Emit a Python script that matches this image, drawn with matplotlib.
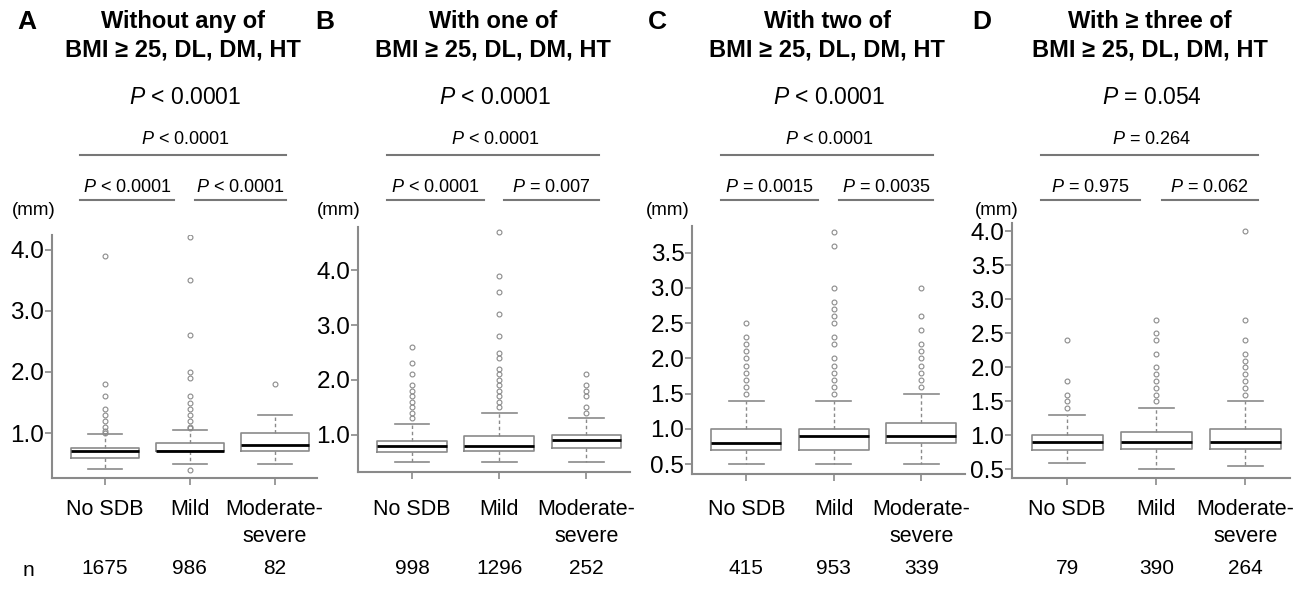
import matplotlib
matplotlib.use("Agg")
import matplotlib.pyplot as plt
from matplotlib.lines import Line2D
import matplotlib.transforms as mtransforms

plt.rcParams['font.family'] = ['Liberation Sans', 'DejaVu Sans']
plt.rcParams['mathtext.fontset'] = 'custom'
plt.rcParams['mathtext.it'] = 'Liberation Sans:italic'
plt.rcParams['mathtext.rm'] = 'Liberation Sans'

# ---- data ----
groups = ["No SDB", "Mild", "Moderate-\nsevere"]
letters = ["A", "B", "C", "D"]
titles = [
    "Without any of\nBMI ≥ 25, DL, DM, HT",
    "With one of\nBMI ≥ 25, DL, DM, HT",
    "With two of\nBMI ≥ 25, DL, DM, HT",
    "With ≥ three of\nBMI ≥ 25, DL, DM, HT",
]
p_overall = ["< 0.0001", "< 0.0001", "< 0.0001", "= 0.054"]
p_outer = ["< 0.0001", "< 0.0001", "< 0.0001", "= 0.264"]
p_left = ["< 0.0001", "< 0.0001", "= 0.0015", "= 0.975"]
p_right = ["< 0.0001", "= 0.007", "= 0.0035", "= 0.062"]
n_counts = [[1675, 986, 82], [998, 1296, 252], [415, 953, 339], [79, 390, 264]]

# [whisker low, Q1, median, Q3, whisker high] per group
summary_a = [[0.41, 0.60, 0.71, 0.75, 0.98], [0.50, 0.70, 0.71, 0.84, 1.05], [0.50, 0.70, 0.80, 1.00, 1.30]]
summary_b = [[0.50, 0.69, 0.80, 0.89, 1.20], [0.50, 0.70, 0.80, 0.97, 1.40], [0.50, 0.75, 0.90, 1.00, 1.30]]
summary_c = [[0.50, 0.70, 0.80, 1.00, 1.40], [0.50, 0.70, 0.90, 1.00, 1.40], [0.50, 0.80, 0.90, 1.08, 1.50]]
summary_d = [[0.60, 0.78, 0.90, 1.00, 1.30], [0.50, 0.80, 0.90, 1.05, 1.40], [0.55, 0.80, 0.90, 1.10, 1.50]]

fliers_a = [[3.9, 1.8, 1.6, 1.4, 1.3, 1.2, 1.1, 1.03, 1.0],
            [4.2, 3.5, 2.6, 2.0, 1.9, 1.6, 1.5, 1.4, 1.3, 1.2, 1.1, 1.08, 0.40],
            [1.8]]
fliers_b = [[2.6, 2.3, 2.1, 1.9, 1.8, 1.7, 1.6, 1.5, 1.4, 1.3],
            [4.7, 3.9, 3.6, 3.2, 2.8, 2.5, 2.4, 2.2, 2.1, 2.0, 1.9, 1.8, 1.7, 1.6, 1.5],
            [2.1, 1.9, 1.8, 1.7, 1.5, 1.4]]
fliers_c = [[2.5, 2.3, 2.2, 2.1, 2.0, 1.9, 1.8, 1.7, 1.6, 1.5],
            [3.8, 3.6, 3.0, 2.8, 2.7, 2.6, 2.5, 2.3, 2.2, 2.0, 1.9, 1.8, 1.7, 1.6, 1.5],
            [3.0, 2.6, 2.4, 2.2, 2.1, 2.0, 1.9, 1.8, 1.7, 1.6]]
fliers_d = [[2.4, 1.8, 1.6, 1.5, 1.4],
            [2.7, 2.5, 2.4, 2.2, 2.0, 1.9, 1.8, 1.7, 1.6, 1.5],
            [4.0, 2.7, 2.4, 2.2, 2.1, 2.0, 1.9, 1.8, 1.7, 1.6]]

yticks_a = [1.0, 2.0, 3.0, 4.0]
yticks_b = [1.0, 2.0, 3.0, 4.0]
yticks_c = [0.5, 1.0, 1.5, 2.0, 2.5, 3.0, 3.5]
yticks_d = [0.5, 1.0, 1.5, 2.0, 2.5, 3.0, 3.5, 4.0]

summaries = [summary_a, summary_b, summary_c, summary_d]
fliers = [fliers_a, fliers_b, fliers_c, fliers_d]
yticks = [yticks_a, yticks_b, yticks_c, yticks_d]

# ---- layout (pixels of a 1293x592 canvas) ----
W, H = 1293, 592
axes_px = [(52, 317, 235, 478), (358, 630, 227, 472), (692, 965, 226, 474), (1012, 1290, 223, 478)]
ylims = [(0.265, 4.24), (0.32, 4.79), (0.36, 3.88), (0.374, 4.12)]
xlim = (0.38, 3.5)
mm_x = [34, 339, 668, 997]
letter_x = [27, 325, 657, 982]

GREY = "#8a8a8a"

fig = plt.figure(figsize=(W / 100, H / 100), dpi=100)


def fx(px):
    return px / W


def fy(py):
    return 1 - py / H


for i in range(4):
    l, r, t, b = axes_px[i]
    ax = fig.add_axes([fx(l), fy(b), (r - l) / W, (b - t) / H])
    stats = []
    for j in range(3):
        lo, q1, med, q3, hi = summaries[i][j]
        stats.append(dict(whislo=lo, q1=q1, med=med, q3=q3, whishi=hi, fliers=fliers[i][j]))
    ax.bxp(stats, positions=[1, 2, 3], widths=0.8, capwidths=0.4, manage_ticks=False,
           boxprops=dict(color=GREY, linewidth=1.2),
           medianprops=dict(color="black", linewidth=2),
           whiskerprops=dict(color=GREY, linewidth=1, linestyle=(0, (2.5, 2))),
           capprops=dict(color=GREY, linewidth=1.2),
           flierprops=dict(marker="o", markersize=3.5, markerfacecolor="none",
                           markeredgecolor=GREY, markeredgewidth=0.8))
    ax.set_xlim(*xlim)
    ax.set_ylim(*ylims[i])
    ax.set_yticks(yticks[i])
    ax.set_yticklabels([f"{v:.1f}" for v in yticks[i]], fontsize=17.5)
    ax.set_xticks([1, 2, 3])
    ax.set_xticklabels([])
    ax.tick_params(axis="both", color=GREY, length=5, width=1.2)
    ax.tick_params(axis="y", pad=0.5)
    for side in ["top", "right"]:
        ax.spines[side].set_visible(False)
    for side in ["left", "bottom"]:
        ax.spines[side].set_color(GREY)
        ax.spines[side].set_linewidth(1.5)

    trans = mtransforms.blended_transform_factory(ax.transData, fig.transFigure)
    for j in range(3):
        ax.text(j + 1, fy(499), groups[j], transform=trans, ha="center", va="top",
                fontsize=15.5, linespacing=1.35)
        ax.text(j + 1, fy(569), str(n_counts[i][j]), transform=trans, ha="center",
                va="center", fontsize=15)

    # annotations above the plot
    fig.text(fx(mm_x[i]), fy(211), "(mm)", ha="center", va="center", fontsize=13.5)
    line_y = fy(155)
    pair_y = fy(200)
    for (x0, x1, yy) in [(0.71, 3.14, line_y), (0.71, 1.82, pair_y), (2.06, 3.14, pair_y)]:
        ax.add_line(Line2D([x0, x1], [yy, yy], transform=trans, color="#777777",
                           linewidth=1.5, clip_on=False))
    ax.text(1.95, fy(139), f"$P$ {p_outer[i]}", transform=trans, ha="center", va="center", fontsize=13)
    ax.text(1.265, fy(187), f"$P$ {p_left[i]}", transform=trans, ha="center", va="center", fontsize=13)
    ax.text(2.6, fy(187), f"$P$ {p_right[i]}", transform=trans, ha="center", va="center", fontsize=13)
    ax.text(1.95, fy(97), f"$P$ {p_overall[i]}", transform=trans, ha="center", va="center", fontsize=16.5)
    ax.text(1.925, fy(36), titles[i], transform=trans, ha="center", va="center", fontsize=17,
            fontweight="bold", linespacing=1.3)

for i in range(4):
    fig.text(fx(letter_x[i]), fy(22), letters[i], ha="center", va="center", fontsize=19, fontweight="bold")
fig.text(fx(28), fy(571), "n", ha="center", va="center", fontsize=15)

fig.savefig("out.png", dpi=100)
